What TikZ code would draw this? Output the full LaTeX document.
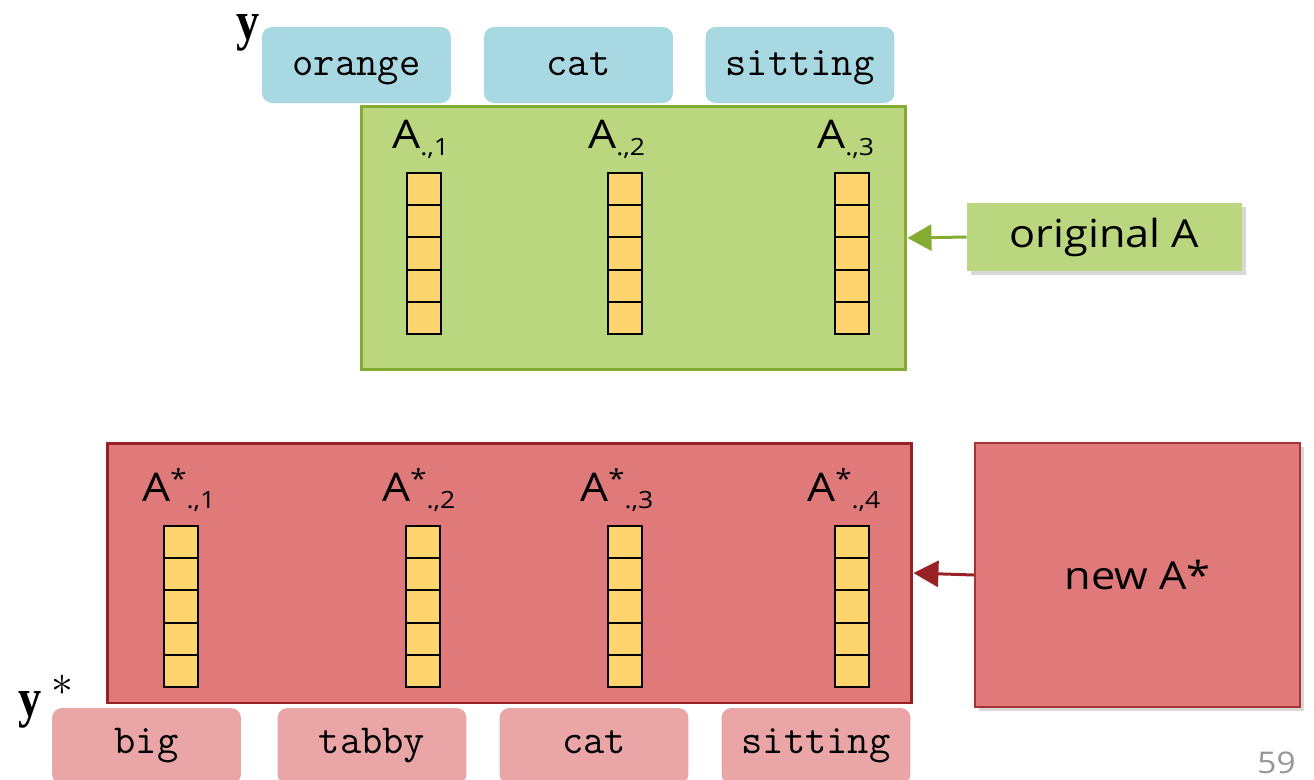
\documentclass[tikz,border=0pt]{standalone}
\usepackage{fontspec}
\setmainfont{Open Sans}[FakeStretch=1.12]
\newfontfamily\serifb{Liberation Serif}
\usetikzlibrary{shadows,arrows.meta}
\definecolor{cblue}{RGB}{168,216,226}
\definecolor{gfill}{RGB}{186,214,126}
\definecolor{gline}{RGB}{132,172,50}
\definecolor{rfill}{RGB}{224,122,122}
\definecolor{rline}{RGB}{150,34,38}
\definecolor{cpink}{RGB}{234,166,166}
\definecolor{cyel}{RGB}{253,212,110}
\definecolor{cgray}{RGB}{150,150,150}
\newcommand\lblsub[1]{\raisebox{-4pt}{\fontsize{13.5}{13.5}\selectfont #1}}
\newcommand\lblsup{\raisebox{7pt}{\fontsize{15}{15}\selectfont *}}
\tikzset{
  wordbox/.style={rounded corners=0.2cm, minimum width=3.78cm, minimum height=1.52cm,
    inner sep=0pt, text depth=0pt, font=\ttfamily\fontsize{23.5}{23.5}\selectfont},
  ybox/.style={wordbox, fill=cblue, text height=11.4pt},
  pbox/.style={wordbox, fill=cpink, text height=9pt},
  cellbox/.style={draw=black, line width=1.1pt, fill=cyel},
  lbl/.style={anchor=base west, inner sep=0pt, font=\fontsize{22.5}{22.5}\selectfont},
  bigtxt/.style={font=\fontsize{22}{22}\selectfont},
  shad/.style={drop shadow={shadow xshift=2pt, shadow yshift=-2.5pt, opacity=0.3}},
}
\begin{document}
\begin{tikzpicture}[x=0.02cm,y=-0.02cm]
\clip (0,0) rectangle (1314,779);
\fill[white] (0,0) rectangle (1314,779);

% top word boxes
\node[ybox] (w1) at (356.5,65) {orange};
\node[ybox] (w2) at (578.5,65) {cat};
\node[ybox] (w3) at (800,65) {sitting};
\node[anchor=base west, inner sep=0pt] (ylab) at (236,39)
  {\scalebox{0.85}[1]{\serifb\bfseries\fontsize{31}{31}\selectfont y}};

% green matrix
\node[fill=gfill, draw=gline, line width=1.7pt, minimum width=10.9cm, minimum height=5.28cm, inner sep=0pt] (green) at (633.5,238) {};
\node[lbl] (a1) at (392,148) {A\lblsub{.,1}};
\node[lbl] (a2) at (588,148) {A\lblsub{.,2}};
\node[lbl] (a3) at (817,148) {A\lblsub{.,3}};
\foreach \cx in {407,608,835} {
  \foreach \i in {0,...,4} {
    \draw[cellbox] ({\cx},{173+32.2*\i}) rectangle ++(34,32.2);
  }
}

% original A
\node[fill=gfill, shad, minimum width=5.5cm, minimum height=1.36cm, inner sep=0pt, bigtxt] (orig) at (1104.5,237) {original A};
\draw[gline, line width=1.7pt, -{Triangle[length=0.48cm, width=0.52cm]}] (orig.west) -- (green.east);

% red matrix
\node[fill=rfill, draw=rline, line width=1.7pt, minimum width=16.1cm, minimum height=5.2cm, inner sep=0pt] (red) at (509.5,573) {};
\node[lbl] (b1) at (142,501) {A\lblsup\lblsub{.,1}};
\node[lbl] (b2) at (382,501) {A\lblsup\lblsub{.,2}};
\node[lbl] (b3) at (580,501) {A\lblsup\lblsub{.,3}};
\node[lbl] (b4) at (807,501) {A\lblsup\lblsub{.,4}};
\foreach \cx in {164,406,608,835} {
  \foreach \i in {0,...,4} {
    \draw[cellbox] ({\cx},{526+32.2*\i}) rectangle ++(34,32.2);
  }
}

% new A*
\node[fill=rfill, draw=rline!80!rfill, line width=1pt, shad, minimum width=6.5cm, minimum height=5.28cm, inner sep=0pt, bigtxt] (newa) at (1137.5,575) {new A*};
\draw[rline, line width=1.7pt, -{Triangle[length=0.5cm, width=0.52cm]}] (newa.west) -- (red.east);

% bottom word boxes
\node[pbox] (p1) at (146.5,746) {big};
\node[pbox] (p2) at (372,746) {tabby};
\node[pbox] (p3) at (594,746) {cat};
\node[pbox] (p4) at (816,746) {sitting};
\node[anchor=base west, inner sep=0pt] (yslab) at (18,716)
  {\scalebox{0.85}[1]{\serifb\bfseries\fontsize{31}{31}\selectfont y}};
\node[inner sep=0pt] (ystar) at (62,685) {\fontsize{28}{28}\selectfont$\ast$};

% page number
\node[anchor=base east, inner sep=0pt, text=cgray, font=\fontsize{17}{17}\selectfont] (pnum) at (1296,773) {59};
\end{tikzpicture}
\end{document}
